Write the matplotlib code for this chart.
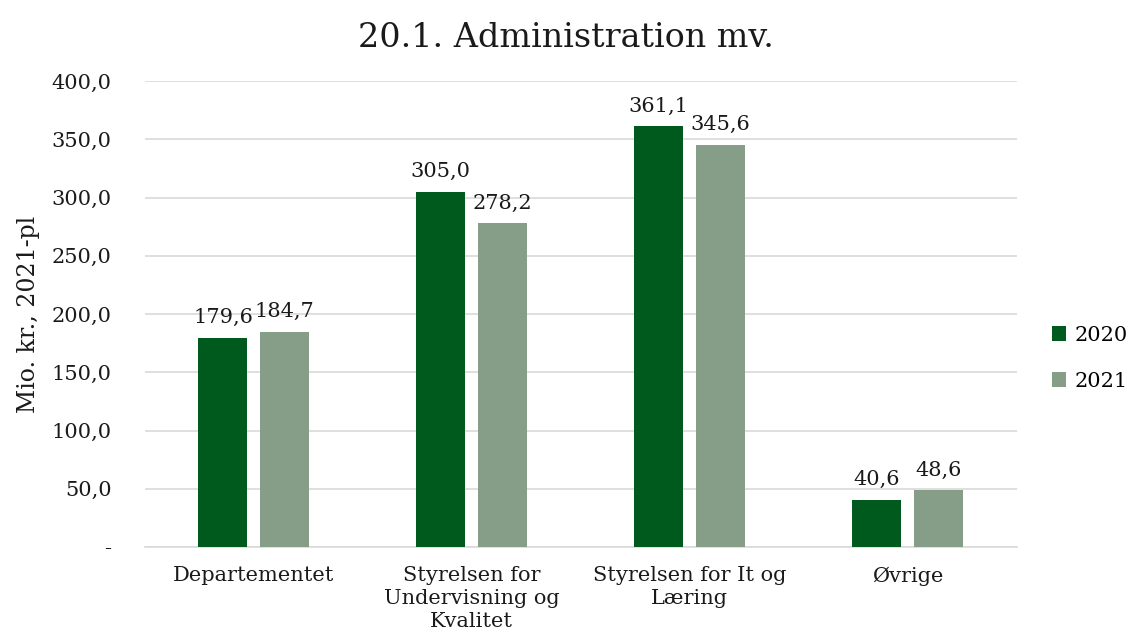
import matplotlib
matplotlib.use("Agg")
from matplotlib import pyplot as plt
import numpy as np

plt.rcParams['font.family'] = ['DejaVu Serif']

categories = ["Departementet", "Styrelsen for\nUndervisning og\nKvalitet",
              "Styrelsen for It og\nLæring", "Øvrige"]
values_2020 = [179.6, 305.0, 361.1, 40.6]
values_2021 = [184.7, 278.2, 345.6, 48.6]
series_names = ["2020", "2021"]
yticks = [0, 50, 100, 150, 200, 250, 300, 350, 400]

col_2020 = "#005A1E"
col_2021 = "#869E88"


def fmt(v):
    return ("%.1f" % v).replace(".", ",")


fig = plt.figure(figsize=(11.32, 6.39), dpi=100)
ax = fig.add_axes([0.128, 0.144, 0.770, 0.729])

x = np.arange(len(categories))
w = 0.225
off = 0.142
b1 = ax.bar(x - off, values_2020, w, color=col_2020, label=series_names[0], zorder=3)
b2 = ax.bar(x + off, values_2021, w, color=col_2021, label=series_names[1], zorder=3)

for bars, vals in ((b1, values_2020), (b2, values_2021)):
    for r, v in zip(bars, vals):
        ax.text(r.get_x() + r.get_width() / 2, v + 9, fmt(v), ha="center", va="bottom",
                fontsize=15, color="#1a1a1a", zorder=4)

ax.set_xlim(-0.5, len(categories) - 0.5)
ax.set_ylim(0, 400)
ax.set_yticks(yticks)
ax.set_yticklabels(["-" if t == 0 else fmt(t) for t in yticks], fontsize=15, color="#1a1a1a")
ax.set_xticks(x)
ax.set_xticklabels(categories, fontsize=15, color="#1a1a1a", linespacing=1.25)
ax.tick_params(axis="y", length=0, pad=24)
ax.tick_params(axis="x", length=0, pad=14)
ax.grid(axis="y", color="#d9d9d9", linewidth=1.2, zorder=0)
for s in ["top", "right", "left"]:
    ax.spines[s].set_visible(False)
ax.spines["bottom"].set_color("#d9d9d9")
ax.spines["bottom"].set_linewidth(1.2)

ax.set_ylabel("Mio. kr., 2021-pl", fontsize=17, color="#1a1a1a", labelpad=8)
fig.suptitle("20.1. Administration mv.", fontsize=24, x=0.5, y=0.965, color="#1a1a1a")

leg = ax.legend(loc="center left", bbox_to_anchor=(1.019, 0.405), frameon=False,
                fontsize=15, handlelength=0.7, handleheight=0.7, labelspacing=1.3,
                handletextpad=0.4)

fig.savefig("out.png", dpi=100)
